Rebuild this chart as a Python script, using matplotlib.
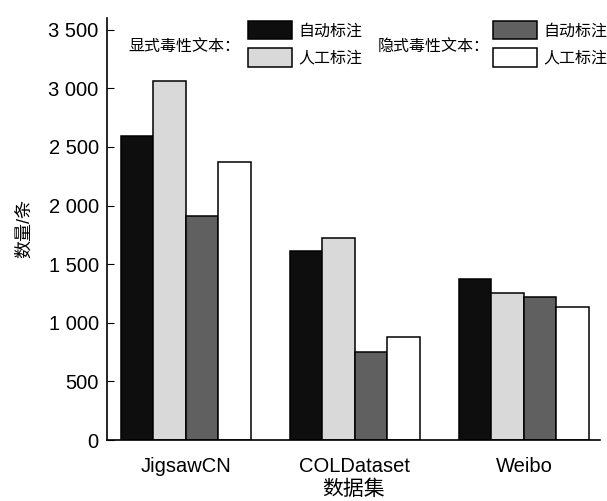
import numpy as np
import matplotlib
matplotlib.use("Agg")
import matplotlib.pyplot as plt
from matplotlib.ticker import FuncFormatter

plt.rcParams["font.family"] = ["Liberation Sans", "Noto Sans CJK SC", "DejaVu Sans"]

# data
datasets = ["JigsawCN", "COLDataset", "Weibo"]
explicit_auto = [2590, 1612, 1376]
explicit_manual = [3065, 1720, 1257]
implicit_auto = [1911, 748, 1217]
implicit_manual = [2374, 881, 1132]
yticks = [0, 500, 1000, 1500, 2000, 2500, 3000, 3500]

BLACK = "#0e0e0e"; LIGHT = "#d9d9d9"; DARK = "#606060"; WHITE = "#ffffff"

fig = plt.figure(figsize=(6.07, 5.01), dpi=100)
ax = fig.add_axes([107 / 607, 1 - 440 / 501, (600 - 107) / 607, (440 - 18) / 501])

x = np.arange(len(datasets))
w = 0.192
series = [explicit_auto, explicit_manual, implicit_auto, implicit_manual]
colors = [BLACK, LIGHT, DARK, WHITE]
bars = []
for i, (vals, c) in enumerate(zip(series, colors)):
    b = ax.bar(x + (i - 1.5) * w, vals, width=w, color=c,
               edgecolor="black", linewidth=1.1)
    bars.append(b)

ax.set_xlim(-0.466, 2.45)
ax.set_ylim(0, 3600)
ax.set_xticks(x)
ax.set_xticklabels(datasets, fontsize=14.5)
ax.set_yticks(yticks)
ax.yaxis.set_major_formatter(FuncFormatter(lambda v, p: f"{int(v):,}".replace(",", " ")))
ax.tick_params(axis="y", direction="in", length=5, labelsize=14.5, pad=6)
ax.tick_params(axis="x", length=0, pad=12)
for sp in ["top", "right"]:
    ax.spines[sp].set_visible(False)
for sp in ["left", "bottom"]:
    ax.spines[sp].set_linewidth(1.2)

ax.set_xlabel("数据集", fontsize=15, labelpad=3)
ax.set_ylabel("数量/条", fontsize=13, labelpad=11)

# two-part legend
leg_kw = dict(frameon=False, handlelength=2.75, handleheight=1.4,
              labelspacing=0.55, handletextpad=0.4, borderpad=0, borderaxespad=0,
              loc="upper left", bbox_transform=fig.transFigure,
              prop={"size": 11.5})
leg1 = ax.legend([bars[0], bars[1]], ["自动标注", "人工标注"],
                 bbox_to_anchor=(248 / 607, 1 - 21 / 501), **leg_kw)
ax.add_artist(leg1)
ax.legend([bars[2], bars[3]], ["自动标注", "人工标注"],
          bbox_to_anchor=(493 / 607, 1 - 21 / 501), **leg_kw)
fig.text(128 / 607, 1 - 46 / 501, "显式毒性文本：", fontsize=11.5,
         va="center", ha="left")
fig.text(378 / 607, 1 - 47 / 501, "隐式毒性文本：", fontsize=11.5,
         va="center", ha="left")

fig.savefig("out.png", dpi=100)
